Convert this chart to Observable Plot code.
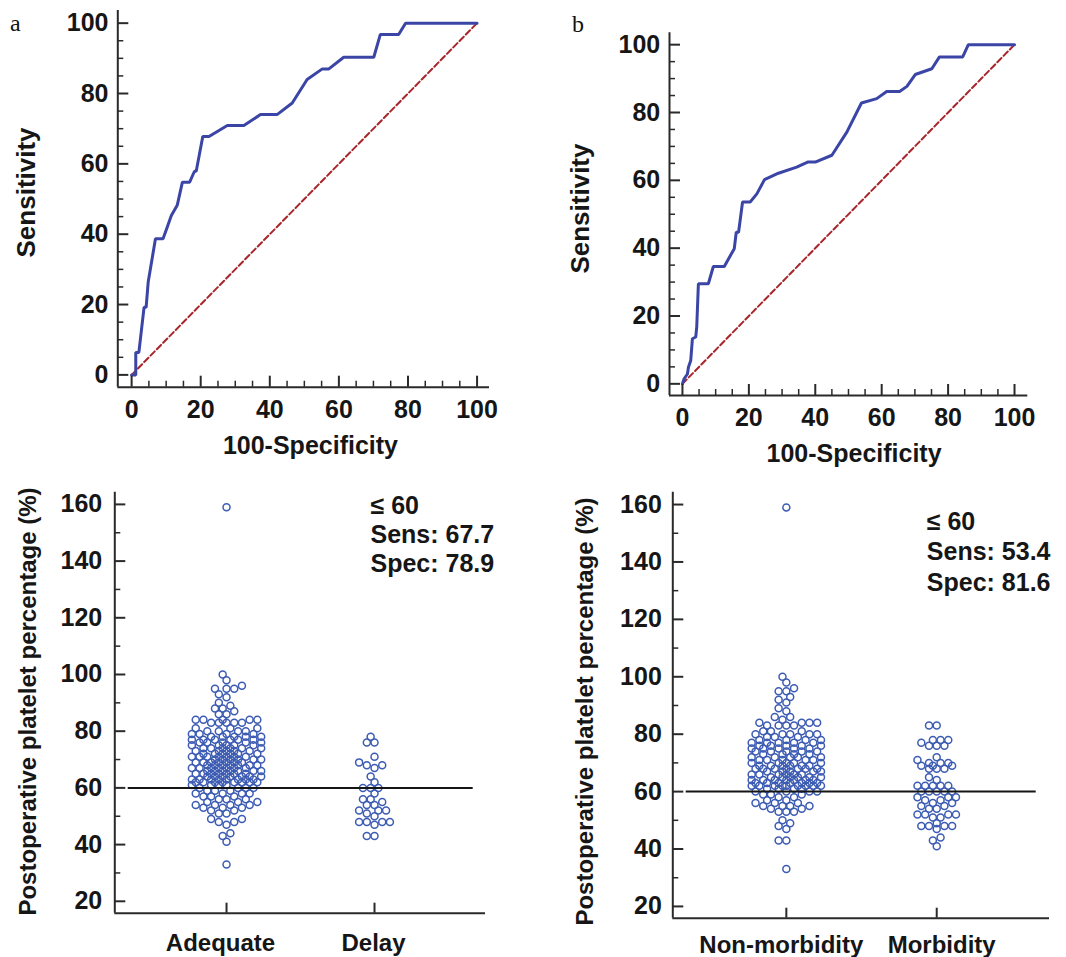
<!DOCTYPE html>
<html><head><meta charset="utf-8">
<script src="https://cdn.jsdelivr.net/npm/d3@7"></script>
<script src="https://cdn.jsdelivr.net/npm/@observablehq/plot@0.6"></script>
<style>
body{margin:0;background:#fff;}
#root{position:relative;width:1066px;height:957px;overflow:hidden;background:#fff;}
.panel{position:absolute;}
.tag{position:absolute;font-family:"Liberation Serif","Times New Roman",serif;font-size:24px;color:#111;line-height:1;}
</style></head><body><div id="root"></div>
<script>
// ---------- DATA ----------
// Panel a ROC (100-Specificity, Sensitivity)
const rocAFpr  = [0,1.2,1.2,2.1,3.6,4.2,4.8,6.9,9.1,10.3,11.5,13.2,14.7,16.8,18.2,18.7,20.6,22.4,27.7,32.5,37.3,42.1,46.5,50.8,55.2,57.1,61.4,70.1,72.0,77.3,79.3,100];
const rocASens = [0,0,6.4,6.4,19.2,19.2,26.4,38.7,38.7,42.0,45.3,48.2,54.8,54.8,57.9,57.9,67.8,67.8,70.9,70.9,74.0,74.0,77.3,84.0,87.0,87.0,90.3,90.3,96.8,96.8,100,100];
// Panel b ROC
const rocBFpr  = [0,0.5,1.5,1.8,2.5,3.0,4.0,4.3,4.8,7.8,9.3,12.6,13.9,15.6,16.2,16.9,18.1,20.4,22.4,24.7,28.9,34.4,37.7,40.0,45.0,49.5,53.9,58.5,61.5,65.4,67.6,70.1,75.1,77.4,84.4,86.1,100];
const rocBSens = [0,1.5,2.9,4.9,6.9,13.3,13.8,16.7,29.5,29.5,34.6,34.6,36.9,39.8,44.7,44.7,53.6,53.6,56.0,60.2,62.1,63.9,65.4,65.4,67.4,74.2,82.8,84.1,86.2,86.2,87.7,91.2,92.9,96.4,96.4,100,100];
const chanceFpr  = [0,100];
const chanceSens = [0,100];

// Panel c dot plot: [value, number of patients]
const adequateCounts = [[159,1],[100,1],[98,1],[96,1],[95,3],[93,1],[92,1],[90,1],[89,1],[88,2],[87,1],[86,2],[84,5],[83,5],[81,3],[80,4],[79,4],[78,5],[77,6],[76,5],[75,5],[74,6],[73,5],[72,6],[71,7],[70,6],[69,7],[68,7],[67,7],[66,7],[65,7],[64,7],[63,8],[62,8],[61,4],[60,4],[59,3],[58,4],[57,3],[56,3],[55,3],[54,4],[53,3],[52,2],[51,2],[49,2],[48,2],[47,1],[44,1],[43,1],[41,1],[33,1]];
const delayCounts = [[78,1],[76,2],[71,1],[69,1],[68,2],[67,1],[64,1],[62,1],[60,3],[58,1],[56,2],[55,1],[54,2],[52,3],[51,1],[50,1],[48,4],[47,1],[43,2]];
// Panel d dot plot
const nonMorbidityCounts = [[159,1],[100,1],[98,1],[96,1],[95,2],[93,1],[92,1],[91,1],[89,1],[88,1],[86,2],[85,1],[84,4],[83,4],[81,3],[80,5],[79,3],[78,4],[77,5],[76,5],[75,5],[74,5],[73,4],[72,5],[71,5],[70,5],[69,6],[68,7],[67,5],[66,6],[65,6],[64,7],[63,7],[62,9],[61,4],[60,4],[59,3],[58,2],[57,2],[56,3],[55,4],[54,2],[53,3],[50,1],[49,1],[48,1],[47,1],[43,2],[33,1]];
const morbidityCounts = [[83,2],[78,3],[77,1],[76,3],[72,1],[71,1],[70,3],[69,3],[68,3],[65,1],[64,1],[62,5],[60,5],[58,3],[57,2],[56,2],[55,2],[54,2],[52,4],[51,2],[49,1],[48,4],[47,1],[44,1],[43,1],[41,1]];

const catsC = ["Adequate", "Delay"];
const catsD = ["Non-morbidity", "Morbidity"];
const cutoff = 60;
const noteC = ["\u2264 60", "Sens: 67.7", "Spec: 78.9"];
const noteD = ["\u2264 60", "Sens: 53.4", "Spec: 81.6"];
const rocTicks = [0,20,40,60,80,100];
const rocMinorTicks = [5,10,15,25,30,35,45,50,55,65,70,75,85,90,95];
const pctTicks = [20,40,60,80,100,120,140,160];
const pctMinorTicks = [30,50,70,90,110,130,150];

// ---------- STYLE ----------
const FONT = "'Liberation Sans', Arial, Helvetica, sans-serif";
const STYLE = `font-family:${FONT};font-size:25px;font-weight:bold;color:#161616;background:transparent;overflow:visible;`;
const AX = "#2a2a2a";
const BLUE = "#3a45a6";
const RED = "#a8262b";
const DOT = "#3d5cb3";
const FS = 25;

function rocPanel(c) {
  const fH = c.height - c.mt - c.mb, fW = c.width - c.ml - c.mr;
  const curve = c.fpr.map((x, i) => ({x, y: c.sens[i]}));
  const chance = chanceFpr.map((x, i) => ({x, y: chanceSens[i]}));
  return Plot.plot({
    width: c.width, height: c.height,
    marginLeft: c.ml, marginRight: c.mr, marginTop: c.mt, marginBottom: c.mb,
    x: {domain: c.xd}, y: {domain: c.yd},
    style: STYLE,
    marks: [
      Plot.line(chance, {x: "x", y: "y", stroke: RED, strokeWidth: 2, strokeDasharray: "6,3"}),
      Plot.line(curve, {x: "x", y: "y", stroke: BLUE, strokeWidth: 3, strokeLinejoin: "miter"}),
      Plot.ruleX([c.xd[0]], {stroke: AX, strokeWidth: 2}),
      Plot.ruleY([c.yd[0]], {stroke: AX, strokeWidth: 2}),
      Plot.tickX(rocTicks, {x: d => d, insetTop: fH - 11, stroke: AX, strokeWidth: 2}),
      Plot.tickX(rocMinorTicks, {x: d => d, insetTop: fH - 6, stroke: AX, strokeWidth: 1.5}),
      Plot.tickY(rocTicks, {y: d => d, insetRight: fW - 11, stroke: AX, strokeWidth: 2}),
      Plot.tickY(rocMinorTicks, {y: d => d, insetRight: fW - 6, stroke: AX, strokeWidth: 1.5}),
      Plot.axisX({ticks: rocTicks, tickSize: 0, tickPadding: c.xpad, label: null, fontSize: FS, fontWeight: "bold"}),
      Plot.axisY({ticks: rocTicks, tickSize: 0, tickPadding: c.ypad, label: null, fontSize: FS, fontWeight: "bold"}),
      Plot.text(["Sensitivity"], {text: d => d, frameAnchor: "left", textAnchor: "middle", lineAnchor: "middle", rotate: -90, dx: c.ylx, dy: c.yly, fontSize: 26, fontWeight: "bold"}),
      Plot.text(["100-Specificity"], {text: d => d, frameAnchor: "bottom", textAnchor: "middle", lineAnchor: "middle", dx: c.xlx, dy: c.xly, fontSize: 25, fontWeight: "bold"})
    ]
  });
}

// dot-plot layout: points placed side by side, collision avoided, width capped
function layout(counts, cat, pxY, pxX, maxSlots) {
  const vals = counts.flatMap(([v, n]) => Array(n).fill(v)).sort((a, b) => a - b);
  const slot = 7.7, minD = 5.8, maxOff = maxSlots * slot;
  const cands = [0];
  for (let k = 1; k * slot / 2 <= maxOff + 1e-9; k++) cands.push(-k * slot / 2, k * slot / 2);
  const placed = [], out = [];
  for (const v of vals) {
    const py = v * pxY;
    let best = 0, bestD = -1;
    for (const cx of cands) {
      let dmin = Infinity;
      for (const p of placed) {
        if (Math.abs(p.y - py) >= minD) continue;
        const d = Math.hypot(p.x - cx, p.y - py);
        if (d < dmin) dmin = d;
      }
      if (dmin >= minD) { best = cx; bestD = dmin; break; }
      if (dmin > bestD + 1e-9) { bestD = dmin; best = cx; }
    }
    placed.push({x: best, y: py});
    out.push({value: v, pos: cat + best / pxX});
  }
  return out;
}

function dotPanel(c) {
  const fH = c.height - c.mt - c.mb, fW = c.width - c.ml - c.mr;
  const xd = [-0.755, 1.75];
  const pxY = fH / (c.yd[1] - c.yd[0]);
  const pxX = fW / (xd[1] - xd[0]);
  const pts = [...layout(c.g0, 0, pxY, pxX, c.w0), ...layout(c.g1, 1, pxY, pxX, c.w1)];
  const catAxis = (i) => Plot.axisX({ticks: [i], tickFormat: j => c.cats[j], tickSize: 0, tickPadding: c.xpad, dx: c.cdx[i], label: null, fontSize: 24, fontWeight: "bold"});
  return Plot.plot({
    width: c.width, height: c.height,
    marginLeft: c.ml, marginRight: c.mr, marginTop: c.mt, marginBottom: c.mb,
    x: {domain: xd}, y: {domain: c.yd},
    style: STYLE,
    marks: [
      Plot.dot(pts, {x: "pos", y: "value", r: 3.5, stroke: DOT, strokeWidth: 1.5, fill: "none"}),
      Plot.ruleY([cutoff], {insetLeft: 13.4, insetRight: c.ruleR, stroke: "#151515", strokeWidth: 2}),
      Plot.ruleX([xd[0]], {stroke: AX, strokeWidth: 2}),
      Plot.ruleY([c.yd[0]], {stroke: AX, strokeWidth: 2}),
      Plot.tickX([0, 1], {x: d => d, insetTop: fH - 10, stroke: AX, strokeWidth: 2}),
      Plot.tickY(pctTicks, {y: d => d, insetRight: fW - 11, stroke: AX, strokeWidth: 2}),
      Plot.tickY(pctMinorTicks, {y: d => d, insetRight: fW - 6, stroke: AX, strokeWidth: 1.5}),
      catAxis(0), catAxis(1),
      Plot.axisY({ticks: pctTicks, tickSize: 0, tickPadding: c.ypad, label: null, fontSize: FS, fontWeight: "bold"}),
      Plot.text(["Postoperative platelet percentage (%)"], {text: d => d, frameAnchor: "left", textAnchor: "middle", lineAnchor: "middle", rotate: -90, dx: c.ylx, dy: c.yly, fontSize: 24, fontWeight: "bold"}),
      Plot.text([c.note.join("\n")], {text: d => d, frameAnchor: "top-right", textAnchor: "start", lineAnchor: "top", lineHeight: c.lh, dx: c.nx, dy: c.ny, fontSize: FS, fontWeight: "bold"})
    ]
  });
}

const root = document.getElementById("root");
function place(node, left, top) {
  const d = document.createElement("div");
  d.className = "panel"; d.style.left = left + "px"; d.style.top = top + "px";
  d.appendChild(node); root.appendChild(d);
}

place(rocPanel({width: 533, height: 470, ml: 117.3, mr: 44, mt: 10, mb: 83.3,
  xd: [-4, 103.6], yd: [-3.5, 103.6], fpr: rocAFpr, sens: rocASens,
  xpad: 12.7, ypad: 9.3, ylx: -91.3, yly: -6.4, xlx: 6.8, xly: 58.3}), 0, 0);
place(rocPanel({width: 533, height: 470, ml: 136, mr: 38.7, mt: 32.3, mb: 75,
  xd: [-3.9, 104], yd: [-3.44, 103.5], fpr: rocBFpr, sens: rocBSens,
  xpad: 13.1, ypad: 9.3, ylx: -89, yly: -5.6, xlx: 5.4, xly: 58.3}), 533, 0);
place(dotPanel({width: 533, height: 487, ml: 114.3, mr: 48, mt: 21.7, mb: 44.3,
  yd: [15.8, 164.3], g0: adequateCounts, g1: delayCounts, w0: 4.5, w1: 2, cats: catsC, note: noteC, cdx: [-6, -1],
  ruleR: 12.3, xpad: 20.6, ypad: 12.6, ylx: -86.3, yly: -1.2, nx: -115, ny: 1, lh: 1.17}), 0, 470);
place(dotPanel({width: 533, height: 487, ml: 139.3, mr: 17, mt: 21.7, mb: 39.3,
  yd: [15.9, 164.3], g0: nonMorbidityCounts, g1: morbidityCounts, w0: 4.5, w1: 2.5, cats: catsD, note: noteD, cdx: [-5, 5],
  ruleR: 13.3, xpad: 17.3, ypad: 11, ylx: -87.6, yly: 6.3, nx: -122.7, ny: 16, lh: 1.22}), 533, 470);

const ta = document.createElement("div"); ta.className = "tag"; ta.textContent = "a";
ta.style.left = "10px"; ta.style.top = "11px"; root.appendChild(ta);
const tb = document.createElement("div"); tb.className = "tag"; tb.textContent = "b";
tb.style.left = "572px"; tb.style.top = "12px"; root.appendChild(tb);
</script></body></html>
